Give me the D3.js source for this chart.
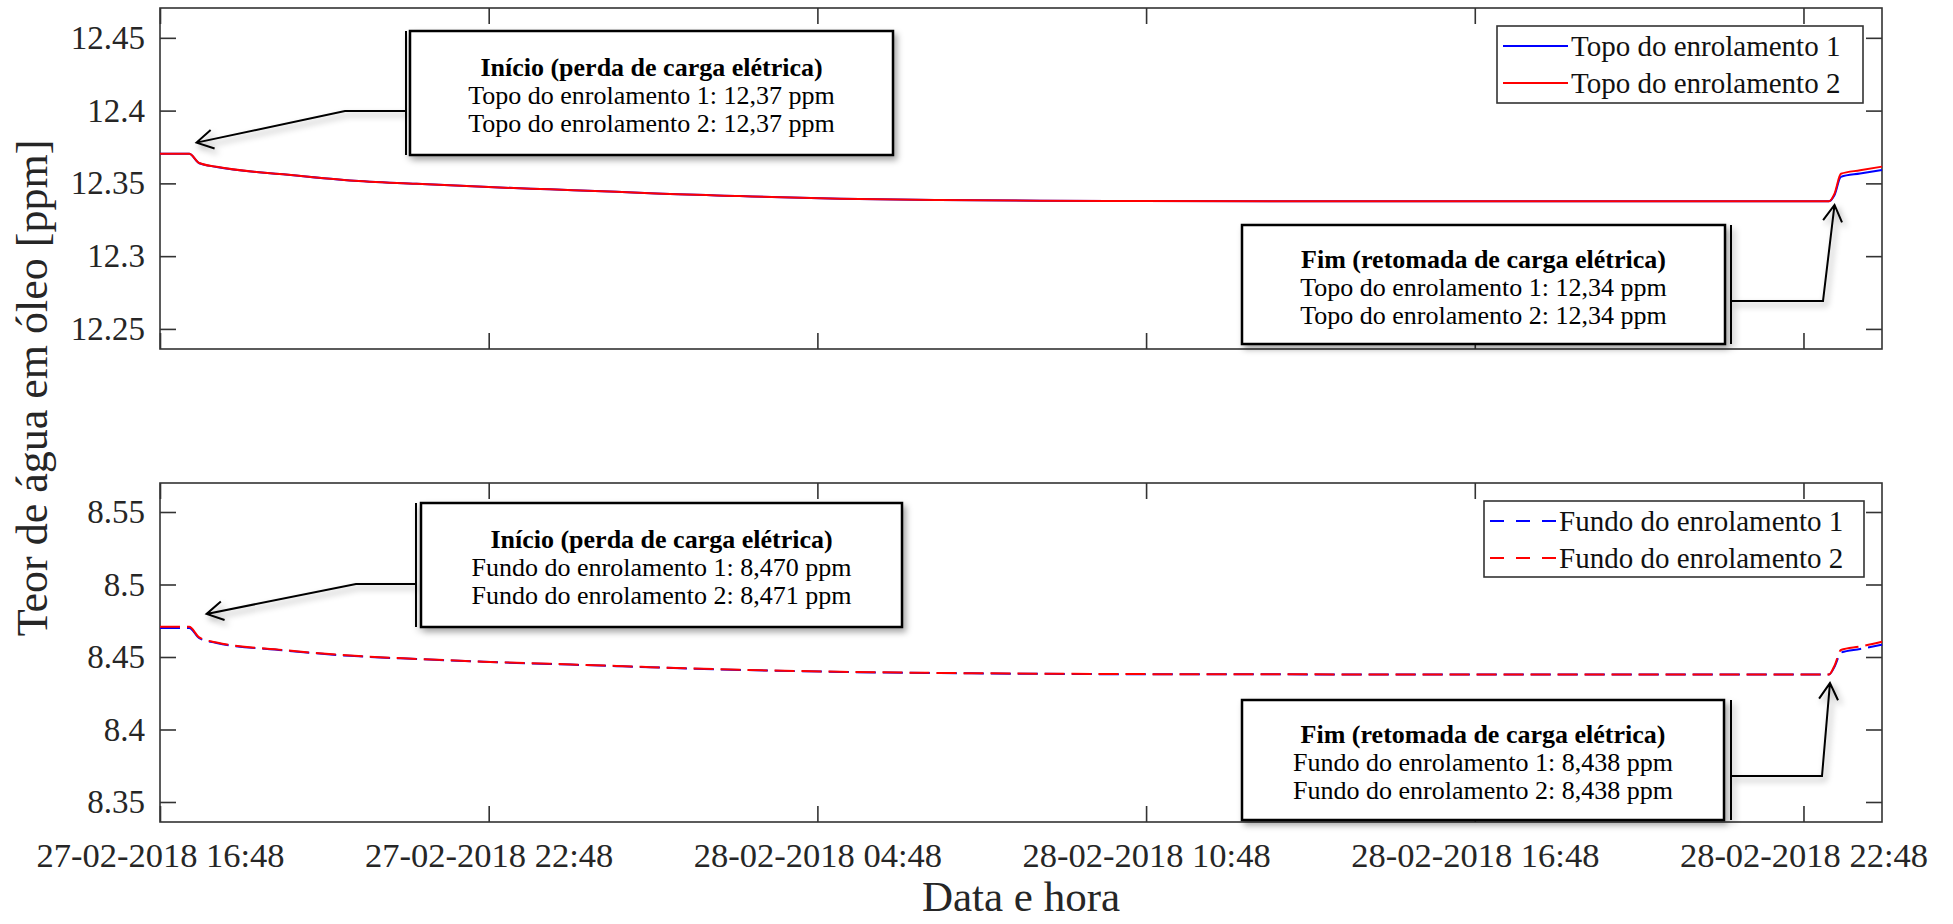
<!DOCTYPE html>
<html>
<head>
<meta charset="utf-8">
<script src="https://cdnjs.cloudflare.com/ajax/libs/d3/7.8.5/d3.min.js"></script>
<style>
    html, body { margin: 0; padding: 0; background: #fff; }
    svg { display: block; font-family: "Liberation Serif", "Times New Roman", serif; }
</style>
</head>
<body>
<svg id="chart" width="1953" height="924"></svg>
<script>
(function () {
    "use strict";

    // time stamps shared by the four series
    const times = [
        "2018-02-27 16:48", "2018-02-27 17:20", "2018-02-27 17:31", "2018-02-27 17:50",
        "2018-02-27 19:03", "2018-02-27 20:16", "2018-02-27 21:29", "2018-02-27 22:42",
        "2018-02-27 23:55", "2018-02-28 01:08", "2018-02-28 01:45", "2018-02-28 03:23",
        "2018-02-28 05:13", "2018-02-28 07:02", "2018-02-28 08:52", "2018-02-28 10:41",
        "2018-02-28 15:26", "2018-02-28 23:16", "2018-02-28 23:22", "2018-02-28 23:29",
        "2018-02-28 23:50", "2018-03-01 00:14"
    ];

    const topo1 = [12.3703, 12.3703, 12.3638, 12.3613, 12.3562, 12.3520, 12.3497, 12.3476,
        12.3459, 12.3443, 12.3432, 12.3413, 12.3395, 12.3386, 12.3381, 12.3379,
        12.3377, 12.3377, 12.3420, 12.3545, 12.3568, 12.3592];
    const topo2 = [12.3703, 12.3703, 12.3640, 12.3614, 12.3562, 12.3520, 12.3497, 12.3476,
        12.3459, 12.3443, 12.3432, 12.3413, 12.3395, 12.3386, 12.3381, 12.3379,
        12.3377, 12.3377, 12.3430, 12.3566, 12.3590, 12.3615];

    const fundo1 = [8.4700, 8.4700, 8.4630, 8.4597, 8.4546, 8.4508, 8.4486, 8.4467,
        8.4452, 8.4437, 8.4429, 8.4411, 8.4397, 8.4389, 8.4384, 8.4381,
        8.4380, 8.4380, 8.4432, 8.4530, 8.4555, 8.4585];
    const fundo2 = [8.4708, 8.4708, 8.4635, 8.4600, 8.4548, 8.4510, 8.4487, 8.4468,
        8.4453, 8.4438, 8.4430, 8.4412, 8.4398, 8.4390, 8.4385, 8.4382,
        8.4380, 8.4380, 8.4440, 8.4548, 8.4572, 8.4605];

    const xTicks = ["2018-02-27 16:48", "2018-02-27 22:48", "2018-02-28 04:48",
        "2018-02-28 10:48", "2018-02-28 16:48", "2018-02-28 22:48"];
    const topYTicks = [12.25, 12.3, 12.35, 12.4, 12.45];
    const bottomYTicks = [8.35, 8.4, 8.45, 8.5, 8.55];

    const topNames = ["Topo do enrolamento 1", "Topo do enrolamento 2"];
    const bottomNames = ["Fundo do enrolamento 1", "Fundo do enrolamento 2"];

    const parse = d3.timeParse("%Y-%m-%d %H:%M");
    const dates = times.map(parse);

    const axisColor = "#333333";
    const tickLen = 16;
    const left = 160;
    const right = 1882;

    const svg = d3.select("#chart");

    const defs = svg.append("defs");
    defs.append("filter")
        .attr("id", "shadow")
        .attr("x", "-10%").attr("y", "-20%")
        .attr("width", "130%").attr("height", "150%")
        .append("feDropShadow")
        .attr("dx", 3).attr("dy", 4)
        .attr("stdDeviation", 3)
        .attr("flood-color", "#000")
        .attr("flood-opacity", 0.35);

    const xScale = d3.scaleTime()
        .domain(d3.extent(dates))
        .range([left, right]);

    const xTickDates = xTicks.map(parse);
    const xFormat = d3.timeFormat("%d-%m-%Y %H:%M");

    function drawPanel(cfg) {
        const y = d3.scaleLinear().domain(cfg.domain).range([cfg.bottom, cfg.top]);
        const g = svg.append("g");

        // frame
        g.append("rect")
            .attr("x", left).attr("y", cfg.top)
            .attr("width", right - left).attr("height", cfg.bottom - cfg.top)
            .attr("fill", "none")
            .attr("stroke", axisColor)
            .attr("stroke-width", 1.6);

        const yAxis = g.append("g")
            .attr("transform", `translate(${left},0)`)
            .call(d3.axisLeft(y).tickValues(cfg.yTicks).tickSize(-tickLen)
                .tickPadding(15).tickFormat(d => String(d)));

        g.append("g")
            .attr("transform", `translate(${right},0)`)
            .call(d3.axisRight(y).tickValues(cfg.yTicks).tickSize(-tickLen).tickFormat(""));

        g.append("g")
            .attr("transform", `translate(0,${cfg.top})`)
            .call(d3.axisTop(xScale).tickValues(xTickDates).tickSize(-tickLen).tickFormat(""));

        const xAxis = g.append("g")
            .attr("transform", `translate(0,${cfg.bottom})`)
            .call(d3.axisBottom(xScale).tickValues(xTickDates).tickSize(-tickLen)
                .tickPadding(21).tickFormat(cfg.showX ? xFormat : ""));

        g.selectAll(".domain").remove();
        g.selectAll(".tick line")
            .attr("stroke", axisColor)
            .attr("stroke-width", 1.6);
        g.selectAll(".tick text")
            .attr("fill", "#262626")
            .attr("font-family", "Liberation Serif, Times New Roman, serif");
        yAxis.selectAll(".tick text").attr("font-size", 33);
        xAxis.selectAll(".tick text").attr("font-size", 34.5);

        // series
        const line = d3.line()
            .x((d, i) => xScale(dates[i]))
            .y(d => y(d))
            .curve(d3.curveMonotoneX);

        cfg.series.forEach((s) => {
            g.append("path")
                .datum(s.values)
                .attr("d", line)
                .attr("fill", "none")
                .attr("stroke", s.color)
                .attr("stroke-width", 2)
                .attr("stroke-dasharray", s.dash || null);
        });

        // legend
        const lg = svg.append("g");
        const lb = cfg.legend;
        lg.append("rect")
            .attr("x", lb.x).attr("y", lb.y)
            .attr("width", lb.w).attr("height", lb.h)
            .attr("fill", "#fff")
            .attr("stroke", axisColor)
            .attr("stroke-width", 1.6);

        cfg.series.forEach((s, i) => {
            const ly = lb.y + 20 + i * 37;
            lg.append("line")
                .attr("x1", lb.x + 6).attr("x2", lb.x + 6 + lb.sample)
                .attr("y1", ly).attr("y2", ly)
                .attr("stroke", s.color)
                .attr("stroke-width", 2)
                .attr("stroke-dasharray", s.dash ? "14 12" : null);
            lg.append("text")
                .attr("x", lb.x + 9 + lb.sample)
                .attr("y", ly)
                .attr("dy", "0.33em")
                .attr("font-size", 29)
                .attr("fill", "#111")
                .text(s.name);
        });

        return y;
    }

    const yTop = drawPanel({
        top: 8, bottom: 349,
        domain: [12.2362, 12.4705],
        yTicks: topYTicks,
        showX: false,
        series: [
            { name: topNames[0], values: topo1, color: "#0000ff" },
            { name: topNames[1], values: topo2, color: "#ff0000" }
        ],
        legend: { x: 1497, y: 26, w: 366, h: 77, sample: 65 }
    });

    const yBottom = drawPanel({
        top: 483, bottom: 822,
        domain: [8.3362, 8.5700],
        yTicks: bottomYTicks,
        showX: true,
        series: [
            { name: bottomNames[0], values: fundo1, color: "#0000ff", dash: "20 7" },
            { name: bottomNames[1], values: fundo2, color: "#ff0000", dash: "20 7" }
        ],
        legend: { x: 1484, y: 501, w: 380, h: 76, sample: 66 }
    });

    // axis titles
    svg.append("text")
        .attr("transform", "translate(47,388) rotate(-90)")
        .attr("text-anchor", "middle")
        .attr("font-size", 44)
        .attr("fill", "#262626")
        .text("Teor de água em óleo [ppm]");

    svg.append("text")
        .attr("x", (left + right) / 2)
        .attr("y", 911)
        .attr("text-anchor", "middle")
        .attr("font-size", 43)
        .attr("fill", "#262626")
        .text("Data e hora");

    // callouts
    const notes = [
        {
            scale: yTop, tipTime: "2018-02-27 17:28", tipValue: 12.378,
            box: { x: 410, y: 31, w: 483, h: 124 }, barX: 406, elbow: { x: 345, y: 111 },
            title: "Início (perda de carga elétrica)",
            lines: ["Topo do enrolamento 1: 12,37 ppm", "Topo do enrolamento 2: 12,37 ppm"]
        },
        {
            scale: yTop, tipTime: "2018-02-28 23:22", tipValue: 12.3352,
            box: { x: 1242, y: 225, w: 483, h: 119 }, barX: 1731, elbow: { x: 1823, y: 301 },
            title: "Fim (retomada de carga elétrica)",
            lines: ["Topo do enrolamento 1: 12,34 ppm", "Topo do enrolamento 2: 12,34 ppm"]
        },
        {
            scale: yBottom, tipTime: "2018-02-27 17:39", tipValue: 8.4797,
            box: { x: 421, y: 503, w: 481, h: 124 }, barX: 416, elbow: { x: 356, y: 584 },
            title: "Início (perda de carga elétrica)",
            lines: ["Fundo do enrolamento 1: 8,470 ppm", "Fundo do enrolamento 2: 8,471 ppm"]
        },
        {
            scale: yBottom, tipTime: "2018-02-28 23:17", tipValue: 8.432,
            box: { x: 1242, y: 700, w: 482, h: 120 }, barX: 1731, elbow: { x: 1822, y: 776 },
            title: "Fim (retomada de carga elétrica)",
            lines: ["Fundo do enrolamento 1: 8,438 ppm", "Fundo do enrolamento 2: 8,438 ppm"]
        }
    ];

    notes.forEach((n) => {
        const g = svg.append("g");
        const tx = xScale(parse(n.tipTime));
        const ty = n.scale(n.tipValue);

        // arrow head
        const dx = n.elbow.x - tx;
        const dy = n.elbow.y - ty;
        const ang = Math.atan2(dy, dx);
        const armLen = 19;
        const spread = Math.PI / 6;
        const a1 = [tx + armLen * Math.cos(ang + spread), ty + armLen * Math.sin(ang + spread)];
        const a2 = [tx + armLen * Math.cos(ang - spread), ty + armLen * Math.sin(ang - spread)];

        const shadowed = g.append("g").attr("filter", "url(#shadow)");

        shadowed.append("path")
            .attr("d", `M${n.barX},${n.elbow.y}L${n.elbow.x},${n.elbow.y}L${tx},${ty}` +
                `M${a1[0]},${a1[1]}L${tx},${ty}L${a2[0]},${a2[1]}`)
            .attr("fill", "none")
            .attr("stroke", "#000")
            .attr("stroke-width", 2);

        shadowed.append("line")
            .attr("x1", n.barX).attr("x2", n.barX)
            .attr("y1", n.box.y).attr("y2", n.box.y + n.box.h)
            .attr("stroke", "#000")
            .attr("stroke-width", 2);

        shadowed.append("rect")
            .attr("x", n.box.x).attr("y", n.box.y)
            .attr("width", n.box.w).attr("height", n.box.h)
            .attr("fill", "#fff")
            .attr("stroke", "#000")
            .attr("stroke-width", 2.5);

        const cx = n.box.x + n.box.w / 2;
        const mid = n.box.y + n.box.h / 2;

        g.append("text")
            .attr("x", cx).attr("y", mid - 17)
            .attr("text-anchor", "middle")
            .attr("font-size", 26)
            .attr("font-weight", "bold")
            .text(n.title);

        n.lines.forEach((t, i) => {
            g.append("text")
                .attr("x", cx).attr("y", mid + 11 + i * 28)
                .attr("text-anchor", "middle")
                .attr("font-size", 26)
                .text(t);
        });
    });
}());
</script>
</body>
</html>
